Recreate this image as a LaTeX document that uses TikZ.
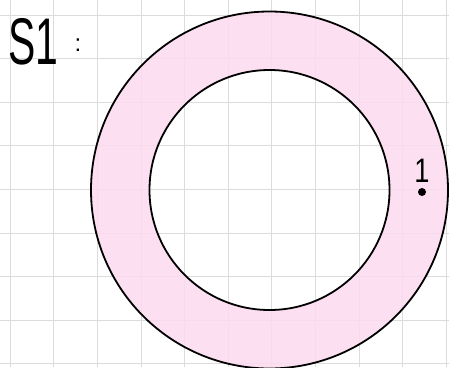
\documentclass[tikz,border=0pt]{standalone}
\usepackage{tikz}
\usepackage{fontspec}
\usetikzlibrary{positioning}
\newfontfamily\handfont{Liberation Sans}
\definecolor{ringpink}{HTML}{FCDAEE}
\definecolor{gridgray}{HTML}{DCDCDC}
\tikzset{
  gridline/.style={draw=gridgray, line width=0.9pt},
  ringline/.style={draw=black, line width=1.8pt},
  ptdot/.style={circle, fill=black, inner sep=0pt, minimum size=8pt},
  hand/.style={inner sep=0pt}
}
\begin{document}
\begin{tikzpicture}[x=1pt,y=-1pt]
\useasboundingbox (0,0) rectangle (449,367);
\clip (0,0) rectangle (449,367);
\fill[white] (0,0) rectangle (449,367);
\foreach \gx in {0,...,10} {
  \draw[gridline] (10.3+43.6*\gx,0) -- (10.3+43.6*\gx,367);
}
\foreach \gy in {0,...,8} {
  \draw[gridline] (0,15+43.6*\gy) -- (449,15+43.6*\gy);
}
\begin{scope}[shift={(269.5,190.0)}]
\fill[ringpink, opacity=0.85, even odd rule] (0,0) circle (178.5) (0,0) circle (120.0);
\draw[ringline] (0,0) circle (178.5);
\draw[ringline] (0,0) circle (120.0);
\end{scope}
% label in the corner
\node[hand, anchor=south west, font=\handfont\fontsize{66}{66}\selectfont] (title) at (8,65) {\scalebox{0.62}[1]{S1}};
\node[hand, anchor=center] (colon) at (78,45) {\handfont\fontsize{24}{24}\selectfont :};
\node[ptdot] (pt) at (422,192) {};
\node[hand, above=5pt of pt] (ptlabel) {\handfont\fontsize{34}{34}\selectfont\scalebox{0.8}[1]{1}};
\end{tikzpicture}
\end{document}
